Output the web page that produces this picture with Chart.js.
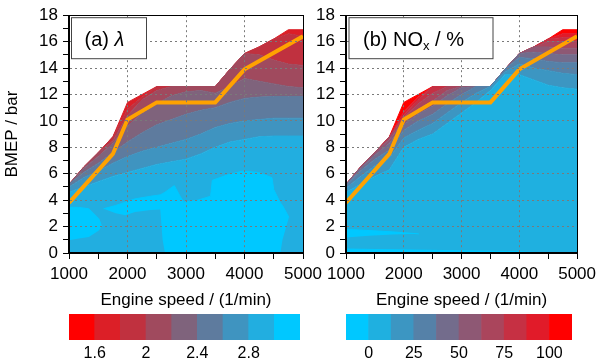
<!DOCTYPE html>
<html>
<head>
<meta charset="utf-8">
<script src="https://cdn.jsdelivr.net/npm/chart.js@4/dist/chart.umd.min.js"></script>
<style>
  html, body { margin: 0; padding: 0; background: #fff; }
  body { width: 601px; height: 363px; position: relative; overflow: hidden; }
  canvas { position: absolute; }
</style>
</head>
<body>
<canvas id="mapA" width="330" height="314" style="left:0;top:0"></canvas>
<canvas id="mapB" width="305" height="314" style="left:296px;top:0"></canvas>
<canvas id="barA" width="330" height="63" style="left:0;top:300px"></canvas>
<canvas id="barB" width="305" height="63" style="left:296px;top:300px"></canvas>
<script>
// ── data ─────────────────────────────────────────────────────────
// engine speed grid (1/min) and full-load envelope (BMEP / bar)
const SPEED    = [1000, 1250, 1500, 1750, 2000, 2250, 2500, 2750, 3000, 3250, 3500, 3750, 4000, 4250, 4500, 4750, 5000];
const ENVELOPE = [5.2, 6.5, 7.6, 8.8, 11.4, 12.0, 12.6, 12.6, 12.6, 12.6, 12.6, 13.9, 15.1, 15.6, 16.2, 16.9, 16.9];

// (a) lambda contour lines: BMEP where lambda crosses the level
const LAMBDA_28 = [4.6, 5.0, 5.4, 5.8, 6.1, 6.4, 6.7, 6.9, 7.1, 7.5, 8.0, 8.4, 8.6, 8.8, 8.85, 8.85, 8.85];
const LAMBDA_26 = [5.0, 5.7, 6.2, 6.8, 7.3, 7.7, 8.0, 8.3, 8.6, 9.0, 9.5, 9.8, 10.0, 10.1, 10.2, 10.2, 10.2];
const LAMBDA_24 = [5.2, 6.1, 6.8, 7.6, 8.4, 9.1, 9.7, 10.1, 10.5, 10.8, 11.0, 11.4, 11.7, 11.8, 11.85, 11.85, 11.85];
const LAMBDA_22 = [5.3, 6.4, 7.3, 8.3, 9.6, 10.6, 11.3, 11.9, 12.2, 12.3, 12.1, 12.6, 13.2, 13.0, 12.8, 12.6, 12.5];
const LAMBDA_20 = [5.4, 6.6, 7.7, 8.5, 10.4, 11.6, 12.3, 12.7, 12.7, 12.7, 12.7, 14.0, 15.2, 15.0, 14.6, 14.3, 14.2];
const LAMBDA_18 = [5.4, 6.6, 7.7, 8.9, 10.9, 11.8, 12.7, 12.7, 12.7, 12.7, 12.7, 14.0, 15.2, 15.7, 16.3, 16.6, 16.4];

// (a) islands with lambda > 3.0
const ISLAND_A_SPEED = [1000, 1170, 1340, 1510, 1560];
const ISLAND_A_TOP   = [3.47, 3.45, 3.35, 2.6, 2.0];
const ISLAND_A_BOT   = [0.97, 1.1, 1.22, 1.7, 2.0];
const ISLAND_B_SPEED = [1590, 1800, 1960, 2130, 2400, 2560, 2600, 2640, 2800, 2900, 2960, 3200, 3420, 3450, 3700, 3960, 4240, 4470, 4500, 4613, 4650, 4760];
const ISLAND_B_TOP   = [3.35, 3.6, 3.85, 4.1, 4.3, 4.4, 4.5, 4.6, 5.1, 4.3, 3.85, 4.0, 4.3, 5.5, 5.9, 6.2, 6.1, 5.7, 4.8, 3.8, 3.6, 2.7];
const ISLAND_B_BOT   = [3.35, 3.0, 2.85, 3.1, 3.25, 3.3, 1.0, 0, 0, 0, 0, 0, 0, 0, 0, 0, 0, 0, 0, 0, 1.0, 2.7];

// (b) NOx contour lines (%)
const NOX_12  = [4.6, 5.2, 5.8, 6.3, 8.0, 8.6, 9.0, 9.8, 10.6, 11.4, 12.3, 13.5, 13.5, 13.1, 12.7, 12.5, 12.4];
const NOX_25  = [4.9, 5.8, 6.6, 7.2, 8.7, 9.3, 9.8, 10.6, 11.4, 12.1, 12.7, 13.7, 14.3, 14.0, 13.8, 13.6, 13.5];
const NOX_37  = [5.1, 6.2, 7.1, 7.8, 9.3, 10.0, 10.5, 11.3, 12.0, 12.6, 12.8, 13.9, 14.8, 14.7, 14.5, 14.4, 14.4];
const NOX_50  = [5.2, 6.4, 7.4, 8.3, 9.7, 10.5, 11.1, 11.9, 12.5, 12.8, 12.8, 14.0, 15.1, 15.2, 15.1, 15.0, 15.0];
const NOX_62  = [5.3, 6.6, 7.6, 8.6, 10.0, 10.9, 11.5, 12.3, 12.8, 12.8, 12.8, 14.0, 15.2, 15.6, 15.6, 15.5, 15.5];
const NOX_75  = [5.3, 6.6, 7.7, 8.9, 10.25, 11.3, 12.1, 12.7, 12.8, 12.8, 12.8, 14.0, 15.2, 15.7, 16.0, 16.0, 16.0];
const NOX_87  = [5.3, 6.6, 7.7, 8.9, 10.45, 11.6, 12.6, 12.8, 12.8, 12.8, 12.8, 14.0, 15.2, 15.7, 16.3, 16.3, 16.3];
const NOX_100 = [5.3, 6.6, 7.7, 8.9, 10.7, 11.8, 12.7, 12.8, 12.8, 12.8, 12.8, 14.0, 15.2, 15.7, 16.3, 16.6, 16.6];

// (b) islands with NOx < 0
const ISLAND_C_SPEED = [1000, 1400, 1800, 2260];
const ISLAND_C_TOP   = [1.78, 1.7, 1.6, 1.45];
const ISLAND_C_BOT   = [1.18, 1.3, 1.4, 1.45];
const ISLAND_D_SPEED = [1000, 2500, 3800, 4600];
const ISLAND_D_TOP   = [0.3, 0.2, 0.12, 0];
const ISLAND_D_BOT   = [0, 0, 0, 0];

// operating line
const LINE_SPEED = [1000, 1750, 2000, 2500, 3500, 4000, 5000];
const LINE_BMEP  = [3.8, 7.5, 10.1, 11.4, 11.4, 13.9, 16.4];

// axes / colour bars
const SPEED_TICKS = [1000, 1500, 2000, 2500, 3000, 3500, 4000, 4500, 5000];
const LAMBDA_EDGES = [1.4, 1.6, 1.8, 2.0, 2.2, 2.4, 2.6, 2.8, 3.0, 3.2];
const LAMBDA_TICKS = [1.6, 2, 2.4, 2.8];
const NOX_EDGES = [-12.5, 0, 12.5, 25, 37.5, 50, 62.5, 75, 87.5, 100, 112.5];
const NOX_TICKS = [0, 25, 50, 75, 100];

// ── colours ──────────────────────────────────────────────────────
const CYAN = '#00c8ff';
const LAMBDA_BAR = ['#ff0000', '#dc1f27', '#c0313f', '#a04a5e', '#7f637c', '#5e7b9e', '#3f94c0', '#22aee0', '#00c8ff'];
const NOX_BAR = ['#00c8ff', '#1fb0e0', '#3c96c2', '#5581a8', '#736c8c', '#8e5874', '#aa455c', '#c63043', '#e11b29', '#ff0000'];
const ORANGE = '#ffa200';
const FONT = '"Liberation Sans", Arial, sans-serif';

Chart.defaults.font.family = FONT;
Chart.defaults.color = '#000';

// contour band between consecutive level lines, clipped at the envelope
function bands(curves, colors) {
  return curves.map((c, i) => ({
    data: c.map((v, k) => ({ x: SPEED[k], y: Math.min(v, ENVELOPE[k]) })),
    fill: i === 0 ? 'origin' : '-1',
    backgroundColor: colors[i], borderColor: colors[i], borderWidth: 1,
    pointRadius: 0, tension: 0, order: 3,
  }));
}
function island(xs, bot, top) {
  const pts = (arr) => arr.map((v, k) => ({ x: xs[k], y: v }));
  return [
    { data: pts(bot), fill: false, borderWidth: 0, pointRadius: 0, order: 2 },
    { data: pts(top), fill: '-1', backgroundColor: CYAN, borderColor: CYAN, borderWidth: 1, pointRadius: 0, order: 2 },
  ];
}
const opLine = () => ({
  data: LINE_SPEED.map((x, i) => ({ x, y: LINE_BMEP[i] })),
  borderColor: ORANGE, borderWidth: 4, fill: false, pointRadius: 0, tension: 0, order: 1,
});

// frame round the plot + the white label box
const framePlugin = {
  id: 'frame',
  afterDraw(chart) {
    const { ctx, chartArea: a } = chart;
    ctx.save();
    ctx.strokeStyle = '#000';
    ctx.lineWidth = 1;
    ctx.strokeRect(Math.round(a.left) - 0.5, Math.round(a.top) + 0.5, Math.round(a.right - a.left) + 1, Math.round(a.bottom - a.top) - 1);
    ctx.restore();
  },
};
const tagPlugin = {
  id: 'tag',
  afterDraw(chart, args, opts) {
    const { ctx, chartArea: a } = chart;
    const x = a.left + opts.dx, y = a.top + 2.5;
    ctx.save();
    ctx.fillStyle = '#fff';
    ctx.fillRect(x, y, opts.w, 41);
    ctx.strokeStyle = '#444';
    ctx.lineWidth = 1;
    ctx.strokeRect(x, y, opts.w, 41);
    ctx.fillStyle = '#000';
    ctx.textBaseline = 'alphabetic';
    let tx = x + opts.tx;
    const base = y + 28;
    opts.parts.forEach((p) => {
      ctx.font = (p.italic ? 'italic ' : '') + (p.sub ? '13px ' : '20px ') + FONT;
      ctx.fillText(p.t, tx, base + (p.sub ? 4 : 0));
      tx += ctx.measureText(p.t).width;
    });
    ctx.restore();
  },
};

function mapChart(id, datasets, yTitle, yWidth, padRight, tag) {
  new Chart(document.getElementById(id), {
    type: 'line',
    data: { datasets },
    options: {
      responsive: false, animation: false, events: [],
      layout: { padding: { top: 13, right: padRight, left: 0, bottom: 0 } },
      plugins: { legend: { display: false }, tooltip: { enabled: false }, tag },
      scales: {
        x: {
          type: 'linear', min: 1000, max: 5000,
          afterBuildTicks: (s) => { s.ticks = SPEED_TICKS.map((v) => ({ value: v })); },
          afterFit: (s) => { s.height = 61; },
          ticks: { callback: (v) => (v % 1000 === 0 ? String(v) : ''), font: { size: 17 }, padding: 5, maxRotation: 0, autoSkip: false },
          grid: {
            z: 1, lineWidth: 1, tickLength: 6, tickColor: '#000', tickBorderDash: [],
            color: (c) => (c.tick && [2000, 3000, 4000].includes(c.tick.value) ? '#7a7a7a' : 'rgba(0,0,0,0)'),
          },
          border: { z: 2, color: '#000', dash: [2, 3] },
          title: { display: true, text: 'Engine speed / (1/min)', font: { size: 17 }, padding: { top: 2, bottom: 3 } },
        },
        y: {
          min: 0, max: 18,
          afterBuildTicks: (s) => { s.ticks = Array.from({ length: 19 }, (_, i) => ({ value: i })); },
          afterFit: (s) => { s.width = yWidth; },
          ticks: { callback: (v) => (v % 2 === 0 ? String(v) : ''), font: { size: 17 }, padding: 5, autoSkip: false },
          grid: {
            z: 1, lineWidth: 1, tickLength: 6, tickColor: '#000', tickBorderDash: [],
            color: (c) => (c.tick && c.tick.value % 2 === 0 && c.tick.value > 0 && c.tick.value < 18 ? '#7a7a7a' : 'rgba(0,0,0,0)'),
          },
          border: { z: 2, color: '#000', dash: [2, 3] },
          title: { display: !!yTitle, text: yTitle, font: { size: 17 }, padding: { top: 2, bottom: 2 } },
        },
      },
    },
    plugins: [framePlugin, tagPlugin],
  });
}

function colorBar(id, edges, colors, ticks, padLeft, padRight) {
  const data = colors.map((c, i) => ({ x: [edges[i], edges[i + 1]], y: 'c' }));
  new Chart(document.getElementById(id), {
    type: 'bar',
    data: { labels: ['c'], datasets: [{ data, backgroundColor: colors, borderWidth: 0, barPercentage: 1, categoryPercentage: 1 }] },
    options: {
      indexAxis: 'y', responsive: false, animation: false, events: [],
      layout: { padding: { left: padLeft, right: padRight, top: 14, bottom: 0 } },
      plugins: { legend: { display: false }, tooltip: { enabled: false } },
      scales: {
        y: { display: false },
        x: {
          type: 'linear', min: edges[0], max: edges[edges.length - 1],
          afterBuildTicks: (s) => { s.ticks = ticks.map((v) => ({ value: v })); },
          afterFit: (s) => { s.height = 23; },
          grid: { display: false, drawTicks: false },
          border: { display: false },
          ticks: { callback: (v) => String(v), font: { size: 16 }, padding: 4, maxRotation: 0, autoSkip: false },
        },
      },
    },
  });
}

mapChart('mapA', [
  ...bands([LAMBDA_28, LAMBDA_26, LAMBDA_24, LAMBDA_22, LAMBDA_20, LAMBDA_18, ENVELOPE],
           ['#22aee0', '#3f94c0', '#5e7b9e', '#7f637c', '#a04a5e', '#c0313f', '#dc1f27']),
  ...island(ISLAND_A_SPEED, ISLAND_A_BOT, ISLAND_A_TOP),
  ...island(ISLAND_B_SPEED, ISLAND_B_BOT, ISLAND_B_TOP),
  opLine(),
], 'BMEP / bar', 69, 27, { dx: 2.5, w: 75, tx: 13, parts: [{ t: '(a) ' }, { t: 'λ', italic: true }] });

mapChart('mapB', [
  ...bands([NOX_12, NOX_25, NOX_37, NOX_50, NOX_62, NOX_75, NOX_87, NOX_100, ENVELOPE], NOX_BAR.slice(1)),
  ...island(ISLAND_C_SPEED, ISLAND_C_BOT, ISLAND_C_TOP),
  ...island(ISLAND_D_SPEED, ISLAND_D_BOT, ISLAND_D_TOP),
  opLine(),
], '', 50, 20, { dx: 3, w: 144, tx: 14, parts: [{ t: '(b) NO' }, { t: 'x', sub: true }, { t: ' / %' }] });

colorBar('barA', LAMBDA_EDGES, LAMBDA_BAR, LAMBDA_TICKS, 69, 30);
colorBar('barB', NOX_EDGES, NOX_BAR, NOX_TICKS, 50, 29);
</script>
</body>
</html>
